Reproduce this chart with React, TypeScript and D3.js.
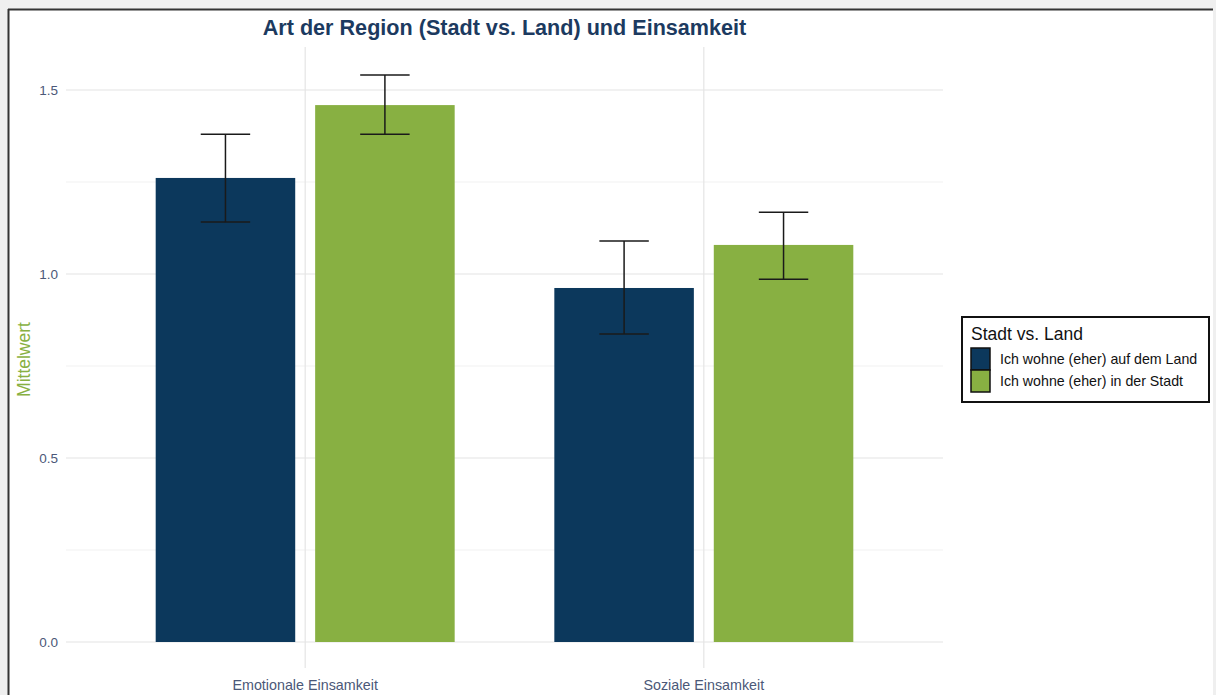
import React from "react";
import * as d3 from "d3";

const categories = ["Emotionale Einsamkeit", "Soziale Einsamkeit"];
const groups = ["Ich wohne (eher) auf dem Land", "Ich wohne (eher) in der Stadt"];
const meanLand = [1.261, 0.962];
const meanStadt = [1.459, 1.079];
const lowLand = [1.141, 0.837];
const highLand = [1.380, 1.090];
const lowStadt = [1.380, 0.986];
const highStadt = [1.541, 1.168];
const yTicks = [0, 0.5, 1.0, 1.5];
const yMinor = [0.25, 0.75, 1.25];
const colors = ["#0c385c", "#88b042"];

const W = 1216;
const H = 695;
const plotL = 66;
const plotR = 943;
const plotT = 47;
const plotB = 668;

export default function App() {
  const means = [meanLand, meanStadt];
  const lows = [lowLand, lowStadt];
  const highs = [highLand, highStadt];

  // ggplot-like discrete scale: positions 1..n, limits [0.4, n+0.6]
  const xLin = d3.scaleLinear().domain([0.4, categories.length + 0.6]).range([plotL, plotR]);
  const y = d3.scaleLinear().domain([0, 1.5]).range([642, 90]);

  const barW = 0.35;
  const dodge = 0.2;
  const capW = 0.062;

  const textCol = "#4b5878";

  return (
    <svg
      width={W}
      height={H}
      style={{ position: "absolute", left: 0, top: 0, fontFamily: "'Liberation Sans', Arial, sans-serif" }}
    >
      <rect x={0} y={0} width={W} height={H} fill="#efefef" />
      <rect x={9} y={10} width={1204} height={H} fill="#ffffff" />
      <line x1={8} x2={1213} y1={9.5} y2={9.5} stroke="#333" strokeWidth={2} />
      <line x1={8.5} x2={8.5} y1={9} y2={H} stroke="#333" strokeWidth={2} />

      {/* minor grid */}
      {yMinor.map((t) => (
        <line key={"m" + t} x1={plotL} x2={plotR} y1={y(t)} y2={y(t)} stroke="#f1f1f1" strokeWidth={1} />
      ))}
      {/* major grid */}
      {yTicks.map((t) => (
        <line key={"g" + t} x1={plotL} x2={plotR} y1={y(t)} y2={y(t)} stroke="#e4e4e4" strokeWidth={1.2} />
      ))}
      {categories.map((c, i) => (
        <line key={"v" + c} x1={xLin(i + 1)} x2={xLin(i + 1)} y1={plotT} y2={plotB} stroke="#e4e4e4" strokeWidth={1.2} />
      ))}

      {/* bars */}
      {categories.map((c, i) =>
        groups.map((g, j) => {
          const cx = i + 1 + (j === 0 ? -dodge : dodge);
          const x0 = xLin(cx - barW / 2);
          const x1 = xLin(cx + barW / 2);
          return (
            <rect
              key={c + g}
              x={x0}
              y={y(means[j][i])}
              width={x1 - x0}
              height={y(0) - y(means[j][i])}
              fill={colors[j]}
            />
          );
        })
      )}

      {/* error bars */}
      {categories.map((c, i) =>
        groups.map((g, j) => {
          const cx = i + 1 + (j === 0 ? -dodge : dodge);
          const px = xLin(cx);
          const half = xLin(cx + capW) - px;
          const yl = y(lows[j][i]);
          const yh = y(highs[j][i]);
          return (
            <g key={"e" + c + g} stroke="#1a1a1a" strokeWidth={1.5}>
              <line x1={px} x2={px} y1={yh} y2={yl} />
              <line x1={px - half} x2={px + half} y1={yh} y2={yh} />
              <line x1={px - half} x2={px + half} y1={yl} y2={yl} />
            </g>
          );
        })
      )}

      {/* y tick labels */}
      {yTicks.map((t) => (
        <text key={"t" + t} x={58} y={y(t)} dy="0.35em" textAnchor="end" fontSize={13.5} fill={textCol}>
          {d3.format(".1f")(t)}
        </text>
      ))}

      {/* x labels */}
      {categories.map((c, i) => (
        <text key={"x" + c} x={xLin(i + 1)} y={690} textAnchor="middle" fontSize={14.3} fill={textCol}>
          {c}
        </text>
      ))}

      {/* y title */}
      <text
        transform={`translate(30,${(plotT + plotB) / 2 + 2}) rotate(-90)`}
        textAnchor="middle"
        fontSize={17.5}
        fill="#88b042"
      >
        Mittelwert
      </text>

      {/* title */}
      <text x={(plotL + plotR) / 2} y={35} textAnchor="middle" fontSize={21.6} fontWeight="bold" fill="#1c3a60">
        Art der Region (Stadt vs. Land) und Einsamkeit
      </text>

      {/* legend */}
      <g>
        <rect x={962} y={317} width={247} height={85} fill="#fff" stroke="#111" strokeWidth={2} />
        <text x={971} y={340} fontSize={17.5} fill="#111">
          Stadt vs. Land
        </text>
        {groups.map((g, j) => (
          <g key={"l" + g}>
            <rect x={971} y={348 + j * 22} width={19} height={22} fill={colors[j]} stroke="#111" strokeWidth={1.5} />
            <text x={1000} y={359 + j * 22} dy="0.35em" fontSize={14.2} fill="#111">
              {g}
            </text>
          </g>
        ))}
      </g>
    </svg>
  );
}
